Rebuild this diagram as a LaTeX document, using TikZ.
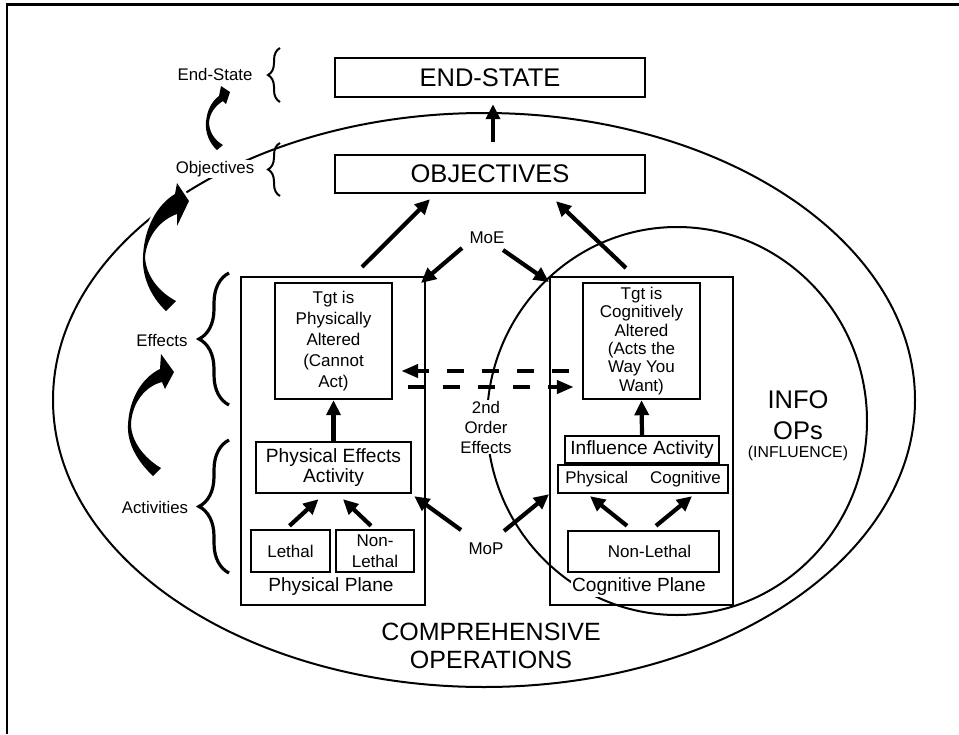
\documentclass[tikz,border=0pt]{standalone}
\usepackage{fontspec}
\setmainfont{Liberation Sans}
\usetikzlibrary{arrows.meta,decorations.pathreplacing,calc}
\newcommand{\fsz}[2]{\fontsize{#1}{#2}\selectfont}
\begin{document}
\begin{tikzpicture}[x=1pt,y=-1pt,
  box/.style={draw,line width=2.4pt,inner sep=0pt,align=center},
  plane/.style={draw,line width=2pt,inner sep=0pt},
  lbl/.style={inner sep=1pt,align=center},
  bigarrow/.style={line width=4.2pt,-{Triangle[length=15pt,width=14pt]}},
  dasharrow/.style={line width=4.2pt,dash pattern=on 17pt off 18pt,-{Triangle[length=17pt,width=13pt]}},
  bracebig/.style={decorate,decoration={brace,amplitude=30pt},line width=3.2pt},
  bracesmall/.style={decorate,decoration={brace,amplitude=12pt},line width=2pt},
  swoosh/.style={fill=black,preaction={draw=white,line width=5pt}},
  ring/.style={line width=2pt},
  ]
\useasboundingbox (0,0) rectangle (959,734);

% page frame
\draw[line width=2.5pt] (7,734) -- (7,4.5) -- (959,4.5);

% comprehensive operations and info ops regions
\draw[ring] (484,400) ellipse [x radius=431pt, y radius=287pt];
\draw[ring] (677,421) ellipse [x radius=190pt, y radius=194pt];

% curved step arrows on the left
\path[swoosh] (217,150) .. controls (209,143) and (205,132) .. (206,122)
  .. controls (207,110) and (212,101) .. (219,96) -- (221,86) -- (230,92) -- (226,104) -- (223,101)
  .. controls (215,106) and (210,113) .. (209,122)
  .. controls (209,131) and (214,140) .. (223,145) -- cycle;
\path[swoosh] (166,311) .. controls (150,296) and (142,276) .. (143,257)
  .. controls (144,227) and (158,204) .. (175,194) -- (177,183) -- (189,201) -- (177,226) -- (177,214)
  .. controls (160,220) and (147,236) .. (145,257)
  .. controls (146,276) and (159,292) .. (176,301) -- cycle;
\path[swoosh] (153,476) .. controls (137,461) and (127,443) .. (128,425)
  .. controls (129,398) and (143,377) .. (160,369) -- (161,354) -- (174,372) -- (165,389) -- (162,382)
  .. controls (146,386) and (132,402) .. (131,424)
  .. controls (131,441) and (144,458) .. (161,468) -- cycle;

% braces and level labels
\draw[bracesmall] (280,102) -- (280,48);
\draw[bracesmall] (280,196) -- (280,143);
\draw[bracebig] (229,405) -- (229,273);
\draw[bracebig] (229,573) -- (229,440);
\node[lbl,font=\fsz{16.8}{20}] (lvlend) at (215,74) {End-State};
\node[lbl,fill=white,font=\fsz{16.8}{20}] (lvlobj) at (215,169) {Objectives};
\node[lbl,font=\fsz{16.8}{20}] (lvleff) at (162,340) {Effects};
\node[lbl,font=\fsz{16.8}{20}] (lvlact) at (155,507) {Activities};

% top boxes
\node[box,minimum width=310pt,minimum height=39pt,font=\fsz{25.5}{30}] (endstate) at (490,77.5) {END-STATE};
\node[box,minimum width=310pt,minimum height=38pt,font=\fsz{25.5}{30}] (objectives) at (490,174) {OBJECTIVES};

% physical plane
\node[plane,minimum width=184pt,minimum height=328pt] (physplane) at (333,441) {};
\node[box,minimum width=117pt,minimum height=116pt,font=\fsz{17}{20.8}] (tgtp) at (333.5,341)
  {Tgt is\\Physically\\Altered\\(Cannot\\Act)};
\node[box,minimum width=155pt,minimum height=51pt,font=\fsz{19.2}{20}] (pea) at (333.5,467.5)
  {Physical Effects\\Activity};
\node[box,minimum width=79pt,minimum height=42pt,font=\fsz{17}{21}] (lethal) at (290.5,551) {Lethal};
\node[box,minimum width=78pt,minimum height=42pt,font=\fsz{17}{21}] (nonlethalp) at (375,551) {Non-\\Lethal};
\node[lbl,font=\fsz{19.1}{22}] (physlbl) at (331,587) {Physical Plane};

% cognitive plane
\node[plane,minimum width=183pt,minimum height=328pt] (cogplane) at (641.5,441) {};
\node[box,minimum width=117pt,minimum height=116pt,font=\fsz{17}{18.3}] (tgtc) at (641.5,341)
  {Tgt is\\Cognitively\\Altered\\(Acts the\\Way You\\Want)};
\node[box,minimum width=154pt,minimum height=27pt,font=\fsz{19.1}{22}] (infl) at (642,449.5) {Influence Activity};
\node[box,minimum width=170pt,minimum height=28pt,font=\fsz{16.9}{20}] (pc) at (643,479)
  {Physical\hspace{22pt}Cognitive};
\node[box,minimum width=151pt,minimum height=41pt,font=\fsz{17}{20}] (nonlethalc) at (643.5,551.5)
  {\hspace*{12pt}Non-Lethal};
\node[lbl,fill=white,font=\fsz{19.1}{22}] (coglbl) at (639,587) {Cognitive Plane};

% region labels
\node[lbl,font=\fsz{25.5}{31}] (infoops) at (798,415.5) {INFO\\OPs};
\node[lbl,font=\fsz{15.8}{18}] (influence) at (798,453) {(INFLUENCE)};
\node[lbl,font=\fsz{25}{28}] (compops) at (491,646) {COMPREHENSIVE\\OPERATIONS};
\node[lbl,fill=white,font=\fsz{16.8}{20}] (second) at (486,427) {2nd\\Order\\Effects};
\node[lbl,font=\fsz{17}{20}] (moe) at (487,238) {MoE};
\node[lbl,font=\fsz{17}{20}] (mop) at (486,549) {MoP};

% connectors
\draw[bigarrow,shorten <=12pt,shorten >=6pt] ($(objectives.north)+(3,0)$) -- ($(endstate.south)+(3,0)$);
\draw[bigarrow] ($(physplane.north)+(29,-9)$) -- ($(objectives.south)+(-60,5)$);
\draw[bigarrow] ($(cogplane.north)+(-15.5,-8)$) -- ($(objectives.south)+(66,7)$);
\draw[bigarrow] ($(moe)+(-25,10)$) -- ($(physplane.north east)+(-5,7)$);
\draw[bigarrow] ($(moe)+(16,12)$) -- ($(cogplane.north west)+(0,6)$);
\draw[bigarrow] ($(mop)+(-25,-19)$) -- ($(pea.south east)+(2,2)$);
\draw[bigarrow] ($(mop)+(18,-18)$) -- (cogplane.west |- pc.south);
\draw[bigarrow] (pea.north) -- (tgtp.south);
\draw[bigarrow] ($(lethal.north)+(-1,-3)$) -- ($(pea.south)+(-15,5)$);
\draw[bigarrow] ($(nonlethalp.north)+(-4,-3)$) -- ($(pea.south)+(9.5,5)$);
\draw[bigarrow] (infl.north) -- (tgtc.south);
\draw[bigarrow] ($(nonlethalc.north)+(-16.5,-4)$) -- ($(pc.south)+(-53,2)$);
\draw[bigarrow] ($(nonlethalc.north)+(12.5,-4)$) -- ($(pc.south)+(49,2)$);

% second order effects between the planes
\draw[dasharrow] ($(tgtc.west)+(-13,30)$) -- ($(tgtp.east)+(8,30)$);
\draw[dasharrow] ($(tgtp.east)+(15,46)$) -- ($(tgtc.west)+(-8,46)$);
\end{tikzpicture}
\end{document}
